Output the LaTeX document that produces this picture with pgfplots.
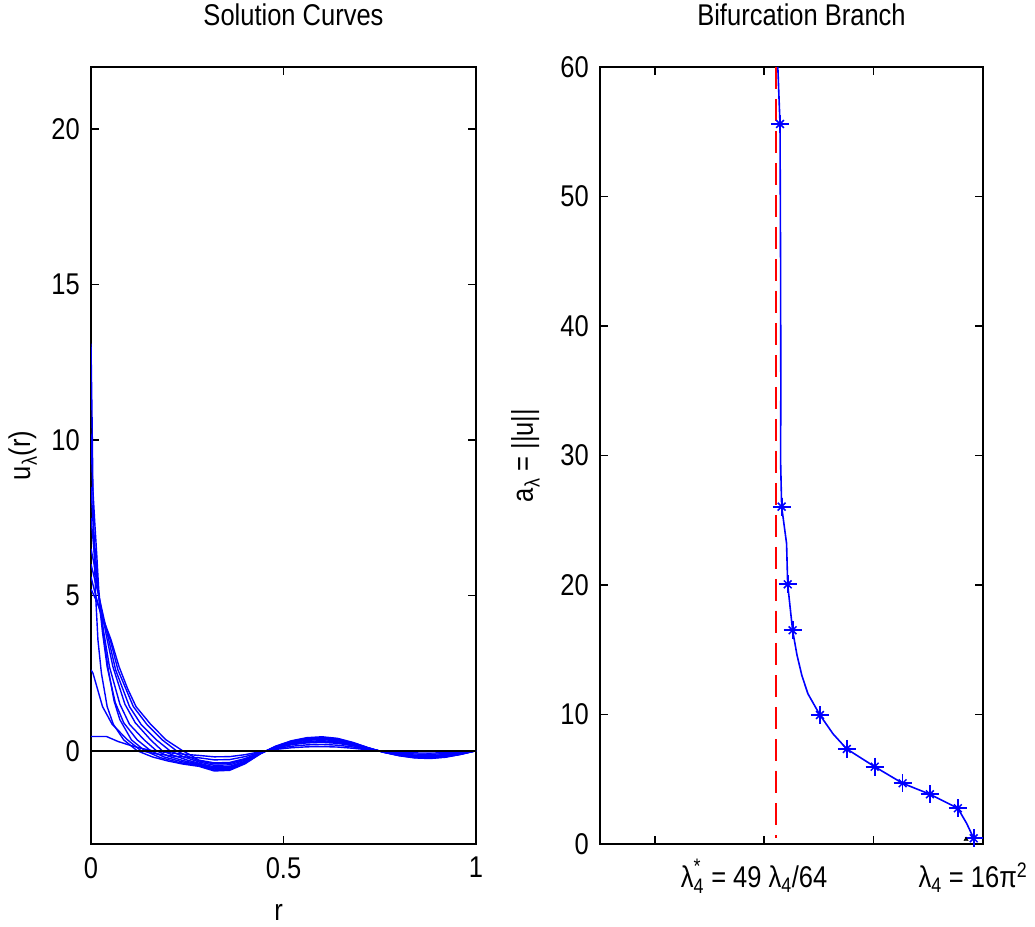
\documentclass[border=0pt]{standalone}
\usepackage{fontspec}
\setmainfont[FakeStretch=0.85]{Liberation Sans}
\usepackage{amsmath}
\usepackage{pgfplots}
\usepackage{pgfplotstable}
\pgfplotsset{compat=1.18}

\pgfplotstableread{
r c1 c2 c3 c4 c5 c6 c7 c8 c9 c10
0.28 -0.5 -0.475 -0.45 -0.425 -0.4 -0.36 -0.325 -0.3 -0.225 -0.15
0.32 -0.65 -0.618 -0.585 -0.553 -0.52 -0.468 -0.423 -0.39 -0.293 -0.195
0.36 -0.63 -0.599 -0.567 -0.536 -0.504 -0.454 -0.41 -0.378 -0.284 -0.189
0.40 -0.42 -0.399 -0.378 -0.357 -0.336 -0.302 -0.273 -0.252 -0.189 -0.126
0.44 -0.1 -0.095 -0.09 -0.085 -0.08 -0.072 -0.065 -0.06 -0.045 -0.03
0.48 0.15 0.143 0.135 0.128 0.12 0.108 0.098 0.09 0.068 0.045
0.52 0.32 0.304 0.288 0.272 0.256 0.23 0.208 0.192 0.144 0.096
0.56 0.42 0.399 0.378 0.357 0.336 0.302 0.273 0.252 0.189 0.126
0.60 0.45 0.428 0.405 0.383 0.36 0.324 0.293 0.27 0.203 0.135
0.64 0.40 0.38 0.36 0.34 0.32 0.288 0.26 0.24 0.18 0.12
0.68 0.27 0.257 0.243 0.23 0.216 0.194 0.176 0.162 0.122 0.081
0.72 0.10 0.095 0.09 0.085 0.08 0.072 0.065 0.06 0.045 0.03
0.76 -0.05 -0.048 -0.045 -0.043 -0.04 -0.036 -0.033 -0.03 -0.023 -0.015
0.80 -0.16 -0.152 -0.144 -0.136 -0.128 -0.115 -0.104 -0.096 -0.072 -0.048
0.84 -0.23 -0.219 -0.207 -0.196 -0.184 -0.166 -0.15 -0.138 -0.104 -0.069
0.88 -0.25 -0.238 -0.225 -0.213 -0.2 -0.18 -0.163 -0.15 -0.113 -0.075
0.92 -0.21 -0.2 -0.189 -0.179 -0.168 -0.151 -0.137 -0.126 -0.095 -0.063
0.96 -0.12 -0.114 -0.108 -0.102 -0.096 -0.086 -0.078 -0.072 -0.054 -0.036
1.00 0 0 0 0 0 0 0 0 0 0
}\tailtab

\pgfplotstableread{
x y
122.5 60
122.9 55.6
123.0 45
123.05 35
123.0 29.7
123.2 26.05
124.1 23.2
124.3 20.05
125.2 16.5
126.0 14.6
126.9 13.0
128.0 11.6
130.2 9.96
132.6 8.5
135.1 7.34
140.2 5.97
145.3 4.69
150.3 3.84
155.4 2.76
157.0 1.6
158.3 0.44
}\branchline

\pgfplotstableread{
x y
122.9 55.6
123.2 26.05
124.3 20.05
125.2 16.5
130.2 9.96
135.1 7.34
140.2 5.97
145.3 4.69
150.3 3.84
155.4 2.76
158.3 0.44
}\branchstars

\newcommand{\bigfont}{\fontsize{30}{36}\selectfont}

\begin{document}
\begin{tikzpicture}
\useasboundingbox (0,0) rectangle (1035pt,926pt);

\pgfplotsset{
  myaxis/.style={
    scale only axis,
    anchor=south west,
    axis line style={line width=1.6pt, black},
    tick style={line width=1.6pt, black},
    major tick length=8pt,
    tick align=inside,
    tick label style={font=\bigfont},
    label style={font=\bigfont},
    title style={font=\bigfont},
    /pgf/number format/assume math mode=true,
    yticklabel style={inner sep=0pt, xshift=-11pt},
  },
  sc/.style={blue, solid, no markers, line width=1.4pt},
}

% ---------------- Left: Solution Curves ----------------
\begin{axis}[myaxis,
  at={(91pt,82pt)}, width=385pt, height=777pt,
  xmin=0, xmax=1, ymin=-3, ymax=22,
  xtick={0,0.5,1}, xticklabels={0,0.5,1},
  ytick={0,5,10,15,20},
  xticklabel style={anchor=north, inner sep=0pt, yshift=-13pt},
  title={Solution Curves},
  title style={at={(axis description cs:0.5,1)}, anchor=base, yshift=35pt, xshift=10pt},
  xlabel={r},
  xlabel style={at={(axis description cs:0.5,0)}, anchor=base, yshift=-76pt, xshift=-5pt},
  ylabel={u\textsubscript{λ}(r)},
  ylabel style={at={(axis description cs:-0.158,0.5)}, anchor=base},
]
% heads
\addplot[sc] coordinates {(0,13.1) (0.003,10.5) (0.005,8.4) (0.008,6.5) (0.012,5) (0.018,3.57) (0.027,2.5) (0.042,1.42) (0.058,0.85) (0.085,0.35) (0.12,0) (0.16,-0.2) (0.2,-0.33) (0.24,-0.43) (0.28,-0.5)};
\addplot[sc] coordinates {(0,10.2) (0.004,8.6) (0.01,7.3) (0.015,6.3) (0.02,5.2) (0.026,4.4) (0.034,3.57) (0.045,2.6) (0.06,1.6) (0.075,1.0) (0.105,0.35) (0.14,0) (0.18,-0.22) (0.23,-0.38) (0.28,-0.475)};
\addplot[sc] coordinates {(0,8.5) (0.005,7.4) (0.01,6.6) (0.016,5.6) (0.022,4.7) (0.03,3.8) (0.042,2.7) (0.063,1.55) (0.085,0.9) (0.12,0.35) (0.155,0) (0.19,-0.2) (0.235,-0.35) (0.28,-0.45)};
\addplot[sc] coordinates {(0,7.5) (0.006,6.7) (0.012,5.9) (0.02,5) (0.032,3.9) (0.048,2.7) (0.075,1.5) (0.1,0.85) (0.138,0.35) (0.17,0) (0.2,-0.17) (0.24,-0.32) (0.28,-0.425)};
\addplot[sc] coordinates {(0,6.5) (0.008,6) (0.02,5) (0.04,3.7) (0.057,2.7) (0.088,1.5) (0.115,0.9) (0.155,0.35) (0.185,0) (0.215,-0.15) (0.25,-0.3) (0.28,-0.4)};
\addplot[sc] coordinates {(0,6) (0.008,5.6) (0.02,5) (0.046,3.57) (0.064,2.6) (0.1,1.42) (0.13,0.85) (0.17,0.35) (0.205,0) (0.24,-0.19) (0.28,-0.36)};
\addplot[sc] coordinates {(0,5.6) (0.01,5.1) (0.03,4.2) (0.05,3.57) (0.07,2.6) (0.11,1.42) (0.145,0.85) (0.185,0.35) (0.222,0) (0.25,-0.17) (0.28,-0.325)};
\addplot[sc] coordinates {(0,5.2) (0.015,4.8) (0.03,4.3) (0.052,3.57) (0.073,2.7) (0.095,2.0) (0.117,1.42) (0.155,0.85) (0.195,0.35) (0.238,0) (0.26,-0.15) (0.28,-0.3)};
\addplot[sc] coordinates {(0,2.6) (0.005,2.5) (0.03,1.42) (0.055,0.85) (0.095,0.35) (0.13,0) (0.17,-0.1) (0.22,-0.18) (0.28,-0.225)};
\addplot[sc] coordinates {(0,0.46) (0.04,0.46) (0.07,0.3) (0.1,0.18) (0.13,0.08) (0.16,0) (0.2,-0.06) (0.24,-0.11) (0.28,-0.15)};
% tails
\addplot[sc] table[x=r, y=c1]{\tailtab};
\addplot[sc] table[x=r, y=c2]{\tailtab};
\addplot[sc] table[x=r, y=c3]{\tailtab};
\addplot[sc] table[x=r, y=c4]{\tailtab};
\addplot[sc] table[x=r, y=c5]{\tailtab};
\addplot[sc] table[x=r, y=c6]{\tailtab};
\addplot[sc] table[x=r, y=c7]{\tailtab};
\addplot[sc] table[x=r, y=c8]{\tailtab};
\addplot[sc] table[x=r, y=c9]{\tailtab};
\addplot[sc] table[x=r, y=c10]{\tailtab};
% zero line
\addplot[black, solid, no markers, line width=1.6pt] coordinates {(0,0) (1,0)};
\end{axis}

% ---------------- Right: Bifurcation Branch ----------------
\begin{axis}[myaxis,
  at={(600pt,82pt)}, width=383pt, height=777pt,
  xmin=90, xmax=160, ymin=0, ymax=60,
  clip=false,
  xtick={100,120,140,160},
  xticklabels={{}, {$\text{λ}_{\text{4}}^{\text{*}}$ = 49 $\text{λ}_{\text{4}}$/64}, {}, {$\text{λ}_{\text{4}}$ = 16π$^{\text{2}}$}},
  xticklabel style={anchor=base, inner sep=0pt, yshift=-43pt, xshift=-10pt},
  ytick={0,10,20,30,40,50,60},
  title={Bifurcation Branch},
  title style={at={(axis description cs:0.5,1)}, anchor=base, yshift=35pt, xshift=10pt},
  ylabel={a\textsubscript{λ} = ||u||},
  ylabel style={at={(axis description cs:-0.175,0.5)}, anchor=base},
]
\addplot[red, line width=2pt, dash pattern=on 22pt off 10pt] coordinates {(122.2,60) (122.2,0.5)};
\addplot[blue, line width=1.6pt] table[x=x, y=y]{\branchline};
\addplot[blue, only marks, mark=+, mark size=9pt, mark options={line width=1.8pt}] table[x=x, y=y]{\branchstars};
\addplot[blue, only marks, mark=x, mark size=5.5pt, mark options={line width=1.5pt}] table[x=x, y=y]{\branchstars};
\addplot[black, only marks, mark=triangle*, mark size=2.5pt] coordinates {(156.9,0.35)};
\end{axis}
\end{tikzpicture}
\end{document}
